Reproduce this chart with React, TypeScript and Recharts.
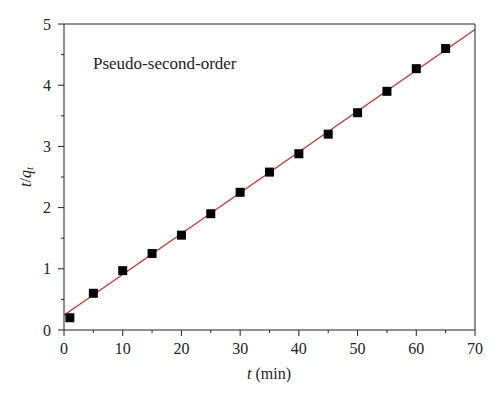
import { ComposedChart, Scatter, Line, XAxis, YAxis, Customized } from 'recharts';

// time (min) and measured t/qt
const times = [1, 5, 10, 15, 20, 25, 30, 35, 40, 45, 50, 55, 60, 65];
const tOverQ = [0.2, 0.6, 0.97, 1.25, 1.55, 1.9, 2.25, 2.58, 2.88, 3.2, 3.55, 3.9, 4.27, 4.6];

// linear fit end points
const fitTimes = [0, 70];
const fitValues = [0.24, 4.91];

const xTicks = [0, 5, 10, 15, 20, 25, 30, 35, 40, 45, 50, 55, 60, 65, 70];
const yTicks = [0, 0.5, 1, 1.5, 2, 2.5, 3, 3.5, 4, 4.5, 5];

const points = times.map((t, i) => ({ t, v: tOverQ[i] }));
const fitLine = fitTimes.map((t, i) => ({ t, v: fitValues[i] }));

const FONT = '"Liberation Serif", "DejaVu Serif", serif';
const AXIS = '#222';
const txt = { fontFamily: FONT };

const XTick = ({ x, y, payload }: any) => {
    const major = payload.value % 10 === 0;
    return (
        <g>
            <line x1={x} x2={x} y1={y} y2={y + (major ? 6 : 3)} stroke={AXIS} strokeWidth={1} />
            {major && (
                <text x={x} y={y + 24} textAnchor="middle" style={txt} fontSize={16} fill="#222">
                    {payload.value}
                </text>
            )}
        </g>
    );
};

const YTick = ({ x, y, payload }: any) => {
    const major = Number.isInteger(payload.value);
    return (
        <g>
            <line x1={x} x2={x - (major ? 6 : 3)} y1={y} y2={y} stroke={AXIS} strokeWidth={1} />
            {major && (
                <text x={x - 13} y={y} textAnchor="end" dominantBaseline="central" style={txt} fontSize={16} fill="#222">
                    {payload.value}
                </text>
            )}
        </g>
    );
};

const Square = ({ cx, cy }: any) => <rect x={cx - 4.5} y={cy - 4.5} width={9} height={9} fill="#000" />;

export default function App() {
    return (
        <div style={{ position: 'absolute', left: 0, top: 0, background: '#fff', fontFamily: FONT }}>
            <ComposedChart width={500} height={399} margin={{ top: 20, right: 20, left: 14, bottom: 29 }}>
                <XAxis
                    xAxisId="b"
                    dataKey="t"
                    type="number"
                    domain={[0, 70]}
                    ticks={xTicks}
                    interval={0}
                    height={40}
                    tickSize={0}
                    tickMargin={0}
                    tickLine={false}
                    tick={<XTick />}
                    axisLine={{ stroke: AXIS }}
                    allowDataOverflow
                />
                <XAxis xAxisId="top" orientation="top" type="number" domain={[0, 70]} height={4} tick={false} tickLine={false} axisLine={{ stroke: AXIS }} />
                <YAxis
                    yAxisId="l"
                    type="number"
                    domain={[0, 5]}
                    ticks={yTicks}
                    interval={0}
                    width={50}
                    tickSize={0}
                    tickMargin={0}
                    tickLine={false}
                    tick={<YTick />}
                    axisLine={{ stroke: AXIS }}
                    allowDataOverflow
                />
                <YAxis yAxisId="r" orientation="right" type="number" domain={[0, 5]} width={5} tick={false} tickLine={false} axisLine={{ stroke: AXIS }} />
                <Line
                    xAxisId="b"
                    yAxisId="l"
                    data={fitLine}
                    dataKey="v"
                    type="linear"
                    stroke="#d42b2b"
                    strokeWidth={1.3}
                    dot={false}
                    activeDot={false}
                    isAnimationActive={false}
                />
                <Scatter xAxisId="b" yAxisId="l" data={points} dataKey="v" shape={<Square />} isAnimationActive={false} />
                <Customized
                    component={() => (
                        <g style={txt} fill="#222">
                            <text x={93} y={69} fontSize={17} style={txt}>Pseudo-second-order</text>
                            <text x={269} y={379} textAnchor="middle" fontSize={16} style={txt}>
                                <tspan fontStyle="italic">t</tspan> (min)
                            </text>
                            <text x={25} y={177} textAnchor="middle" dominantBaseline="central" fontSize={16} style={txt} transform="rotate(-90 25 177)">
                                <tspan fontStyle="italic">t</tspan>
                                <tspan>/</tspan>
                                <tspan fontStyle="italic">q</tspan>
                                <tspan fontStyle="italic" fontSize={11} dy={4}>t</tspan>
                            </text>
                        </g>
                    )}
                />
            </ComposedChart>
        </div>
    );
}
